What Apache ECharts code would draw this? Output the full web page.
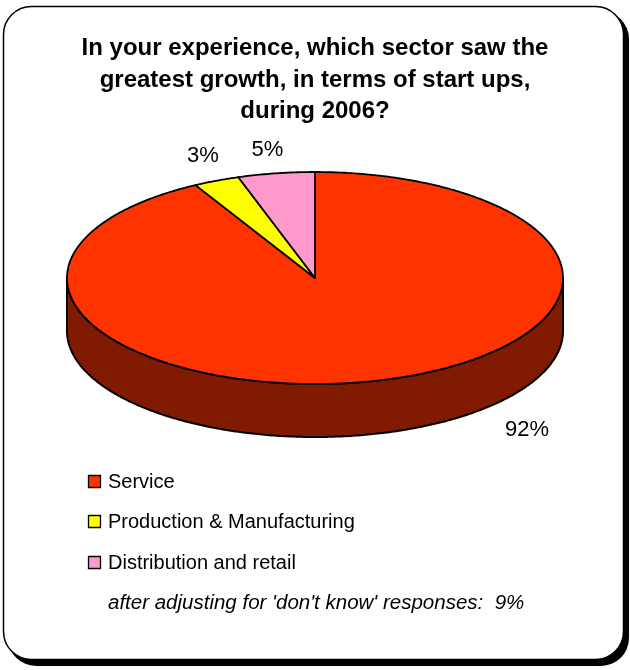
<!DOCTYPE html>
<html><head><meta charset="utf-8">
<script src="https://cdn.jsdelivr.net/npm/echarts@6/dist/echarts.min.js"></script>
<style>html,body{margin:0;padding:0;background:#fff}#c{width:630px;height:670px}</style>
</head><body><div id="c"></div>
<script>
// ---- data ----
const categories = ['Service', 'Production & Manufacturing', 'Distribution and retail'];
const values = [92, 3, 5];
const valueLabels = ['92%', '3%', '5%'];
const titleText = 'In your experience, which sector saw the\ngreatest growth, in terms of start ups,\nduring 2006?';
const noteText = "after adjusting for 'don't know' responses:  9%";

// ---- style / layout ----
const topColors = ['#FF3300', '#FFFF00', '#FF99CC'];
const sideColors = ['#801A00', '#808000', '#804C66'];
const PIE = { cx: 315, cy: 278, rx: 248, ry: 106, depth: 53 };
const LABEL_K = 1.25;
const labelShift = [[135, 24], [11, 0], [1, 3]];
const FONT = '"Liberation Sans", Arial, Helvetica, sans-serif';

const total = values.reduce((a, b) => a + b, 0);
const starts = [];
{ let c = 0; values.forEach(v => { starts.push(c / total * Math.PI * 2); c += v; }); }

function pt(th, dy, k) {
  k = k || 1;
  return [PIE.cx + PIE.rx * k * Math.sin(th), PIE.cy - PIE.ry * k * Math.cos(th) + (dy || 0)];
}
function arcPts(a, b, dy) {
  const n = Math.max(2, Math.ceil(Math.abs(b - a) / 0.01));
  const out = [];
  for (let j = 0; j <= n; j++) out.push(pt(a + (b - a) * j / n, dy));
  return out;
}

const sideSeries = {
  type: 'custom', coordinateSystem: 'none', z: 2, silent: true,
  data: values.map((v, i) => ({ name: categories[i], value: v })),
  renderItem: function (params, api) {
    const i = params.dataIndex;
    const a0 = starts[i], a1 = a0 + api.value(0) / total * Math.PI * 2;
    const s = Math.max(a0, Math.PI / 2), e = Math.min(a1, Math.PI * 1.5);
    if (s >= e) return { type: 'group', children: [] };
    const pts = arcPts(s, e, 0).concat(arcPts(e, s, PIE.depth));
    return {
      type: 'polygon', shape: { points: pts },
      style: { fill: sideColors[i], stroke: '#000', lineWidth: 2, lineJoin: 'round' }
    };
  }
};

const topSeries = {
  type: 'custom', coordinateSystem: 'none', z: 3, silent: true,
  data: values.map((v, i) => ({ name: categories[i], value: v })),
  renderItem: function (params, api) {
    const i = params.dataIndex;
    const a0 = starts[i], a1 = a0 + api.value(0) / total * Math.PI * 2;
    const pts = [[PIE.cx, PIE.cy]].concat(arcPts(a0, a1, 0));
    const mid = (a0 + a1) / 2;
    const lp = pt(mid, 0, LABEL_K);
    return {
      type: 'group',
      children: [
        { type: 'polygon', shape: { points: pts },
          style: { fill: topColors[i], stroke: '#000', lineWidth: 1.8, lineJoin: 'round' } },
        { type: 'text', x: lp[0] + labelShift[i][0], y: lp[1] + labelShift[i][1],
          style: { text: valueLabels[i], fill: '#000', font: '22px ' + FONT,
                   textAlign: 'center', textVerticalAlign: 'middle' } }
      ]
    };
  }
};

const graphics = [
  { type: 'rect', z: -10, shape: { x: 8, y: 11, width: 621, height: 655, r: 28 },
    style: { fill: '#000' } },
  { type: 'rect', z: -9, shape: { x: 3.5, y: 6.5, width: 620, height: 653, r: 28 },
    style: { fill: '#fff', stroke: '#000', lineWidth: 1.5 } }
];
const legendY = [482, 522, 563];
categories.forEach((c, i) => {
  graphics.push({ type: 'rect', shape: { x: 88.5, y: legendY[i] - 6.5, width: 12, height: 12 },
    style: { fill: topColors[i], stroke: '#000', lineWidth: 1.3 } });
  graphics.push({ type: 'text', x: 108, y: legendY[i],
    style: { text: c, fill: '#000', font: '20px ' + FONT, textVerticalAlign: 'middle' } });
});
graphics.push({ type: 'text', x: 108, y: 603,
  style: { text: noteText, fill: '#000', font: 'italic 20.5px ' + FONT, textVerticalAlign: 'middle' } });

const chart = echarts.init(document.getElementById('c'), null, { renderer: 'canvas' });
chart.setOption({
  animation: false,
  backgroundColor: '#fff',
  title: {
    text: titleText, left: 'center', top: 28,
    textStyle: { fontFamily: FONT, fontSize: 24, fontWeight: 'bold', color: '#000', lineHeight: 31.5 }
  },
  graphic: graphics,
  series: [sideSeries, topSeries]
});
</script>
</body></html>
